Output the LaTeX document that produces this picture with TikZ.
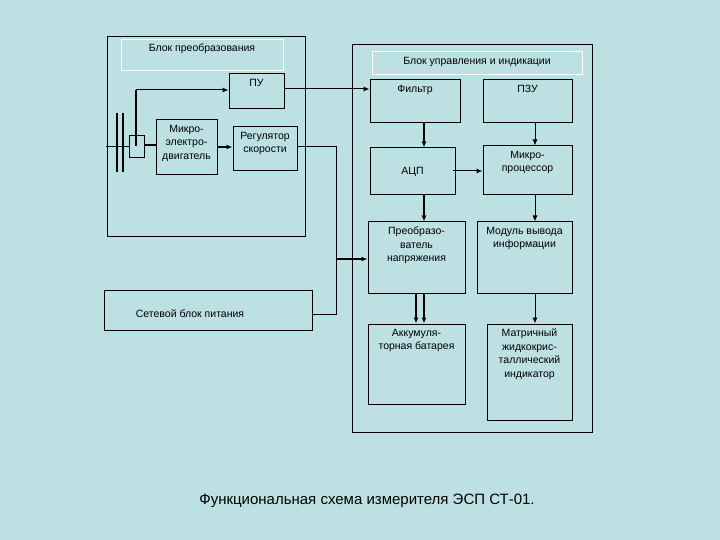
\documentclass[tikz,border=0pt]{standalone}
\usepackage{fontspec}
\setmainfont{Liberation Sans}
\usetikzlibrary{arrows.meta}
\definecolor{bg}{HTML}{BDE0E3}
\tikzset{
 box/.style={draw=black,line width=1pt,inner sep=0pt},
 ttl/.style={draw=white,line width=1pt,inner sep=0pt},
 cn/.style={line width=1pt},
 tk/.style={line width=2.4pt},
 ar/.style={-{Latex[length=6pt,width=5pt]}},
 ft/.style={font=\fontsize{10.5}{13.5}\selectfont},
}
\newcommand{\bx}[6]{\node[box,minimum width={#4-#2},minimum height={#5-#3},
  label={[anchor=north,align=center,ft,yshift=-2pt]north:#6}]
  (#1) at ({(#2+#4)/2},{(#3+#5)/2}) {};}
\begin{document}
\begin{tikzpicture}[x=1pt,y=-1pt]
\fill[bg] (0,0) rectangle (720,540);
\useasboundingbox (0,0) rectangle (720,540);
% outer blocks
\node[box,minimum width=198,minimum height=199] (lb) at (206,136.5) {};
\node[ttl,minimum width=162,minimum height=31] (lt) at (202,55.5) {};
\node[ft] (ltt) at (202,49) {Блок преобразования};
\node[box,minimum width=240,minimum height=387] (rb) at (472,238.5) {};
\node[ttl,minimum width=210,minimum height=23] (rt) at (477,63.5) {};
\node[ft] (rtt) at (477,62) {Блок управления и индикации};
% boxes
\bx{pu}{229}{74}{284}{109}{ПУ}
\bx{mot}{156}{120}{217}{175}{Микро-\\электро-\\двигатель}
\bx{reg}{233}{127}{297}{171}{Регулятор\\скорости}
\bx{net}{104}{290}{312}{330}{}
\node[ft] (nett) at (190,314) {Сетевой блок питания};
\bx{fil}{370}{80}{460}{123}{Фильтр}
\bx{pzu}{483}{80}{572}{123}{ПЗУ}
\node[box,minimum width=85,minimum height=47,ft] (adc) at (412.5,171.5) {АЦП};
\bx{mp}{483}{146}{572}{195}{Микро-\\процессор}
\bx{pn}{368}{222}{465}{293}{Преобразо-\\ватель\\напряжения}
\bx{mod}{477}{222}{572}{293}{Модуль вывода\\информации}
\bx{akk}{368}{324}{465}{404}{Аккумуля-\\торная батарея}
\bx{lcd}{487}{324}{572}{420}{Матричный\\жидкокрис-\\таллический\\индикатор}
% shaft
\draw[tk] (117,113) -- (117,172);
\draw[tk] (123,113) -- (123,172);
\draw[cn] (106,147) -- (129,147);
\node[box,minimum width=15,minimum height=22] (sb) at (136.5,147) {};
\draw[tk] (sb.east |- 0,145) -- (mot.west |- 0,145);
\draw[tk] (136,146) -- (136,90);
\coordinate (c1) at (136,90);
\draw[cn,ar] (c1) -- (pu.west |- c1);
\draw[tk,ar] (mot.east |- 0,147) -- (reg.west |- 0,147);
\draw[cn,ar] (pu.east |- 0,89) -- (fil.west |- 0,89);
\coordinate (v) at (336,147);
\draw[cn] (reg.east |- v) -- (v) -- (336,314) -- (net.east |- 0,314);
\draw[tk,ar] (336,259) -- (pn.west |- 0,259);
\draw[tk,ar] (fil.south -| 424,0) -- (adc.north -| 424,0);
\draw[tk,ar] (adc.south -| 424,0) -- (pn.north -| 424,0);
\draw[cn,ar] (pzu.south -| 535,0) -- (mp.north -| 535,0);
\draw[cn,ar] (453,171) -- (mp.west |- 0,171);
\draw[cn,ar] (mp.south -| 535,0) -- (mod.north -| 535,0);
\draw[cn,ar] (mod.south -| 535,0) -- (lcd.north -| 535,0);
\draw[tk,ar] (pn.south -| 416,0) -- (akk.north -| 416,0);
\draw[tk,ar] (pn.south -| 424,0) -- (akk.north -| 424,0);
\node[font=\fontsize{15}{17}\selectfont] (cap) at (367,501) {Функциональная схема измерителя ЭСП СТ-01.};
\end{tikzpicture}
\end{document}
